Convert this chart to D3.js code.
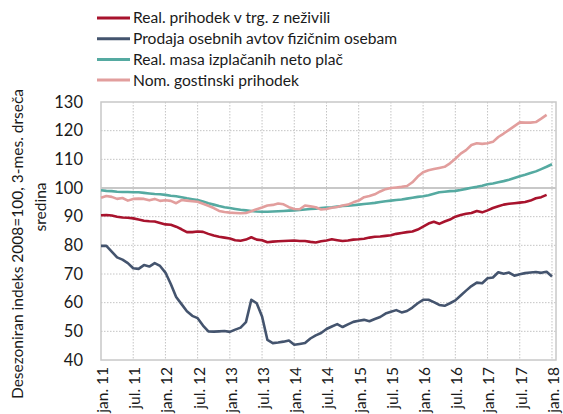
<!DOCTYPE html>
<html>
<head>
<meta charset="utf-8">
<script src="https://cdn.jsdelivr.net/npm/d3@7"></script>
<style>
  body { margin: 0; background: #fff; }
  svg text { font-family: Lato, "Open Sans", sans-serif; fill: #1a1a1a; }
</style>
</head>
<body>
<svg id="canvas" width="563" height="414"></svg>
<script>
window.addEventListener('DOMContentLoaded', () => {

// monthly values, jan.11 onwards
const seriesNames = [
  'Real. prihodek v trg. z neživili',
  'Prodaja osebnih avtov fizičnim osebam',
  'Real. masa izplačanih neto plač',
  'Nom. gostinski prihodek'
]
const seriesColors = ['#a8132d', '#44546e', '#55aaa1', '#e29e9d']

const retail = [90.5, 90.6, 90.4, 90.0, 89.7, 89.6, 89.4, 89.0, 88.6, 88.4, 88.3, 87.8,
  87.3, 87.2, 86.5, 85.6, 84.6, 84.6, 84.8, 84.7, 84.0, 83.4, 83.0, 82.7,
  82.4, 81.8, 81.6, 82.0, 82.8, 82.0, 81.8, 81.1, 81.3, 81.4, 81.5, 81.6,
  81.7, 81.5, 81.5, 81.2, 81.0, 81.4, 81.7, 82.1, 81.8, 81.5, 81.7, 82.0,
  82.1, 82.3, 82.7, 83.0, 83.1, 83.3, 83.5, 84.0, 84.3, 84.6, 84.8, 85.5,
  86.5, 87.6, 88.2, 87.5, 88.3, 89.0, 90.0, 90.6, 91.0, 91.3, 92.0, 91.5,
  92.2, 93.0, 93.6, 94.2, 94.5, 94.7, 94.9, 95.1, 95.6, 96.4, 96.8, 97.6]

const cars = [79.8, 79.8, 77.8, 75.8, 75.0, 73.8, 72.0, 71.8, 73.1, 72.6, 73.8, 72.8,
  70.5, 66.5, 62.0, 59.5, 57.0, 55.4, 54.6, 52.0, 50.0, 49.9, 50.0, 50.1,
  49.8, 50.6, 51.3, 53.2, 61.0, 59.8, 55.2, 47.0, 45.9, 46.1, 46.4, 46.8,
  45.3, 45.6, 45.9, 47.5, 48.6, 49.4, 50.8, 51.7, 52.5, 51.5, 52.4, 53.3,
  53.7, 54.0, 53.5, 54.3, 55.0, 56.2, 56.8, 57.4, 56.6, 57.1, 58.3, 59.8,
  61.0, 61.0, 60.2, 59.2, 58.9, 59.8, 60.8, 62.5, 64.2, 65.8, 67.0, 66.8,
  68.5, 68.8, 70.6, 70.1, 70.5, 69.4, 69.9, 70.3, 70.5, 70.7, 70.4, 70.8, 69.1]

const wages = [99.2, 99.0, 98.9, 98.7, 98.6, 98.6, 98.5, 98.5, 98.3, 98.1, 97.9, 97.8,
  97.6, 97.3, 97.1, 96.8, 96.4, 96.1, 95.8, 95.3, 94.7, 94.2, 93.7, 93.3,
  93.0, 92.7, 92.4, 92.2, 92.0, 91.8, 91.7, 91.7, 91.8, 91.9, 92.0, 92.1,
  92.2, 92.3, 92.5, 92.7, 92.8, 93.0, 93.2, 93.3, 93.5, 93.7, 93.8, 94.0,
  94.2, 94.4, 94.6, 94.8, 95.1, 95.4, 95.6, 95.8, 96.0, 96.3, 96.6, 96.9,
  97.1, 97.5, 98.0, 98.5, 98.7, 98.9, 99.0, 99.3, 99.7, 100.1, 100.4, 100.8,
  101.3, 101.6, 102.0, 102.4, 102.9, 103.5, 104.1, 104.6, 105.2, 105.8, 106.6, 107.4, 108.3]

const catering = [96.6, 97.2, 96.9, 96.2, 96.5, 95.6, 96.2, 96.3, 96.2, 95.7, 96.2, 95.5,
  95.7, 95.5, 94.7, 95.8, 95.6, 95.4, 95.2, 94.5, 93.8, 93.0, 92.0, 91.6,
  91.4, 91.3, 91.2, 91.3, 91.9, 92.6, 93.2, 93.9, 94.1, 94.6, 94.3, 93.3,
  92.7, 92.6, 93.9, 93.6, 93.3, 92.5, 92.7, 93.1, 93.4, 93.9, 94.2, 95.0,
  95.6, 96.8, 97.2, 97.8, 98.8, 99.6, 100.0, 100.2, 100.4, 100.7, 102.0, 104.0,
  105.5, 106.2, 106.6, 107.0, 107.4, 108.6, 110.2, 112.0, 113.2, 115.0, 115.6, 115.4,
  115.6, 116.1, 117.8, 119.0, 120.3, 121.6, 122.9, 122.8, 122.8, 123.0, 124.2, 125.5]

const xTickLabels = ['jan. 11', 'jul. 11', 'jan. 12', 'jul. 12', 'jan. 13', 'jul. 13', 'jan. 14',
  'jul. 14', 'jan. 15', 'jul. 15', 'jan. 16', 'jul. 16', 'jan. 17', 'jul. 17', 'jan. 18']
const yTicks = [40, 50, 60, 70, 80, 90, 100, 110, 120, 130]

const allSeries = [retail, cars, wages, catering]

let svg = d3.select('#canvas')

const left = 101, right = 556, top = 102, bottom = 360

let x = d3.scaleLinear().domain([0, 84.75]).range([left, right])
let y = d3.scaleLinear().domain([40, 130]).range([bottom, top])

// grid
svg.append('g')
  .selectAll('line')
  .data(yTicks.filter(v => v !== 100 && v !== 40 && v !== 130))
  .enter().append('line')
  .attr('x1', left).attr('x2', right)
  .attr('y1', d => y(d)).attr('y2', d => y(d))
  .attr('stroke', '#c4c4c4')
  .attr('stroke-width', 1)
  .attr('stroke-dasharray', '1.5,1.5')

svg.append('g')
  .selectAll('line')
  .data(d3.range(6, 85, 6))
  .enter().append('line')
  .attr('x1', d => x(d)).attr('x2', d => x(d))
  .attr('y1', top).attr('y2', bottom)
  .attr('stroke', '#c4c4c4')
  .attr('stroke-width', 1)
  .attr('stroke-dasharray', '1.5,1.5')

// frame
svg.append('rect')
  .attr('x', left).attr('y', top)
  .attr('width', right - left).attr('height', bottom - top)
  .attr('fill', 'none')
  .attr('stroke', '#c8c8c8')
  .attr('stroke-width', 1.5)

// 100 line
svg.append('line')
  .attr('x1', left).attr('x2', right)
  .attr('y1', y(100)).attr('y2', y(100))
  .attr('stroke', '#c8c8c8')
  .attr('stroke-width', 2.2)

// axes
let yAxis = svg.append('g')
  .attr('transform', `translate(${left},0)`)
  .call(d3.axisLeft(y).tickValues(yTicks).tickSize(0).tickPadding(18))
yAxis.select('.domain').remove()
yAxis.selectAll('text').style('font-size', '16.5px').attr('fill', '#1a1a1a')

let xAxis = svg.append('g')
  .attr('transform', `translate(0,${bottom})`)
  .call(d3.axisBottom(x).tickValues(d3.range(0, 85, 6))
    .tickFormat((d, i) => xTickLabels[i]).tickSize(0))
xAxis.select('.domain').remove()
xAxis.selectAll('text')
  .style('font-size', '15.5px')
  .attr('fill', '#1a1a1a')
  .attr('text-anchor', 'end')
  .attr('transform', 'rotate(-90)')
  .attr('x', -7)
  .attr('y', 1)
  .attr('dy', '0.35em')

// lines
let line = d3.line()
  .x((d, i) => x(i))
  .y(d => y(d))

svg.append('g')
  .selectAll('path')
  .data(allSeries)
  .enter().append('path')
  .attr('d', line)
  .attr('fill', 'none')
  .attr('stroke', (d, i) => seriesColors[i])
  .attr('stroke-width', 2.6)
  .attr('stroke-linejoin', 'round')

// legend
let legend = svg.append('g')
  .selectAll('g')
  .data(seriesNames)
  .enter().append('g')
  .attr('transform', (d, i) => `translate(97,${18 + i * 20.7})`)

legend.append('line')
  .attr('x1', 0).attr('x2', 33)
  .attr('stroke', (d, i) => seriesColors[i])
  .attr('stroke-width', 3)

legend.append('text')
  .attr('x', 36)
  .attr('dy', '0.35em')
  .style('font-size', '15.6px')
  .text(d => d)

// y title, two lines
svg.append('text')
  .attr('transform', 'translate(18,244) rotate(-90)')
  .attr('text-anchor', 'middle')
  .attr('dy', '0.35em')
  .style('font-size', '15.5px')
  .text('Desezoniran indeks 2008=100, 3-mes. drseča')

svg.append('text')
  .attr('transform', 'translate(41,207) rotate(-90)')
  .attr('text-anchor', 'middle')
  .attr('dy', '0.35em')
  .style('font-size', '15.5px')
  .text('sredina')

})
</script>
</body>
</html>
